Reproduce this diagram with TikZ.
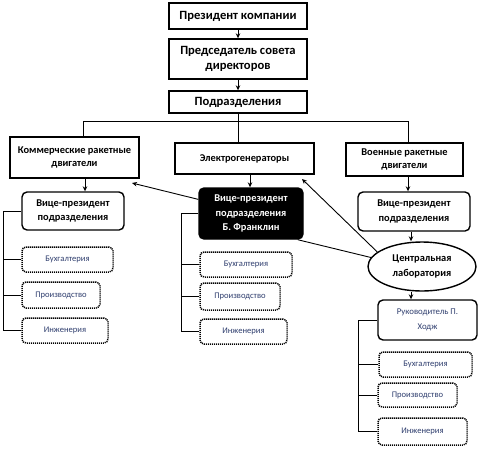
\documentclass[tikz,border=0pt]{standalone}
\usepackage{fontspec}
\setmainfont{Carlito}
\usetikzlibrary{arrows.meta,shapes.geometric}
\definecolor{subtxt}{RGB}{47,62,110}
\tikzset{
  box/.style={draw, line width=1.4pt, rectangle, inner sep=1pt, align=center, font=\bfseries\fontsize{12.6}{15}\selectfont},
  midbox/.style={draw, line width=1.4pt, rectangle, inner sep=1pt, align=center, font=\bfseries\fontsize{10.4}{13.5}\selectfont},
  vpbox/.style={draw, line width=1.4pt, rounded corners=5pt, inner sep=1pt, align=center, font=\bfseries\fontsize{10.4}{14.5}\selectfont},
  subbox/.style={draw, dash pattern=on 1.1pt off 0.9pt, line width=1.5pt, rounded corners=4pt, inner sep=1pt, align=center, text=subtxt, font=\fontsize{8.6}{10}\selectfont},
  arr/.style={line width=0.9pt, -{Stealth[length=5pt,width=4.5pt]}},
  ln/.style={line width=0.9pt}
}
\begin{document}
\begin{tikzpicture}[x=1pt,y=-1pt]
\useasboundingbox (0,0) rectangle (495,448);
% top chain
\node[box, minimum width=138, minimum height=26] (pres) at (238,16) {Президент компании};
\node[box, minimum width=138, minimum height=40] (pred) at (238,59) {Председатель совета\\директоров};
\node[box, minimum width=138, minimum height=22] (podr) at (238,102) {Подразделения};
% second level
\node[midbox, minimum width=129, minimum height=41] (comm) at (74.5,157.5) {Коммерческие ракетные\\двигатели};
\node[midbox, minimum width=139, minimum height=31] (elec) at (244.5,158.5) {Электрогенераторы};
\node[midbox, minimum width=117, minimum height=33] (voen) at (404.5,159.5) {Военные ракетные\\двигатели};
% VPs
\node[vpbox, minimum width=102, minimum height=38] (vpL) at (73,211) {Вице-президент\\подразделения};
\node[vpbox, fill=black, text=white, minimum width=104, minimum height=51] (vpM) at (251,213.5) {Вице-президент\\подразделения\\Б. Франклин};
\node[vpbox, minimum width=112, minimum height=39] (vpR) at (414,211.5) {Вице-президент\\подразделения};
\node[draw, ellipse, line width=1.4pt, inner sep=0pt, minimum width=108, minimum height=49, align=center, font=\bfseries\fontsize{10.4}{14.5}\selectfont] (ell) at (422,266.5) {Центральная\\лаборатория};
\node[vpbox, font=\fontsize{8.8}{14.5}\selectfont, text=subtxt, minimum width=99, minimum height=40] (hod) at (427.5,320) {Руководитель П.\\Ходж};
% sub items left
\node[subbox, minimum width=91, minimum height=25] (bL) at (67.5,259.5) {Бухгалтерия};
\node[subbox, minimum width=78, minimum height=26] (pL) at (61,295) {Производство};
\node[subbox, minimum width=86, minimum height=25] (iL) at (65,330.5) {Инженерия};
% sub items middle
\node[subbox, minimum width=92, minimum height=25] (bM) at (246,264.5) {Бухгалтерия};
\node[subbox, minimum width=80, minimum height=27] (pM) at (240,296.5) {Производство};
\node[subbox, minimum width=87, minimum height=25] (iM) at (243.5,331.5) {Инженерия};
% sub items right
\node[subbox, minimum width=93, minimum height=25] (bR) at (425.5,364.5) {Бухгалтерия};
\node[subbox, minimum width=79, minimum height=24] (pR) at (417.5,395) {Производство};
\node[subbox, minimum width=89, minimum height=27] (iR) at (422.5,431.5) {Инженерия};
% coordinates
\coordinate (hy) at (0,121);
\coordinate (xL) at (83,0);
\coordinate (xR) at (408,0);
\coordinate (xA) at (85,0);
\coordinate (xM) at (250,0);
\coordinate (xV) at (408,0);
\coordinate (xE) at (411,0);
\coordinate (tipA) at (132,183);
\coordinate (tipB) at (302,179);
% arrows top
\draw[arr] (pres) -- (pred);
\draw[arr] (pred) -- (podr);
% tree
\draw[ln] (podr.south) -- (elec.north -| podr.south);
\draw[ln] (hy -| xL) -- (hy -| xR);
\draw[ln] (hy -| xL) -- (comm.north -| xL);
\draw[ln] (hy -| xR) -- (voen.north -| xR);
% down arrows
\draw[arr] (comm.south -| xA) -- (vpL.north -| xA);
\draw[arr] (elec.south -| xM) -- (vpM.north -| xM);
\draw[arr] (voen.south -| xV) -- (vpR.north -| xV);
\draw[arr] (vpR.south -| xE) -- (ell.north -| xE);
\draw[arr] (ell.south -| xE) -- (hod.north -| xE);
% diagonal arrows
\draw[arr] (vpM.165) -- (tipA);
\draw[arr] (ell.162) -- (tipB);
\draw[ln] ([xshift=-6pt]vpM.south east) -- (ell.170);
% brackets
\draw[ln] (vpL.west) -- ++(-18,0) |- (iL.west);
\draw[ln] (bL.west) -- ++(-18,0);
\draw[ln] (pL.west) -- ++(-18,0);
\draw[ln] (vpM.west) -- ++(-17,0) |- (iM.west);
\draw[ln] (bM.west) -- ++(-17,0);
\draw[ln] (pM.west) -- ++(-17,0);
\draw[ln] (hod.west) -- ++(-19,0) |- (iR.west);
\draw[ln] (bR.west) -- ++(-19,0);
\draw[ln] (pR.west) -- ++(-19,0);
\end{tikzpicture}
\end{document}
